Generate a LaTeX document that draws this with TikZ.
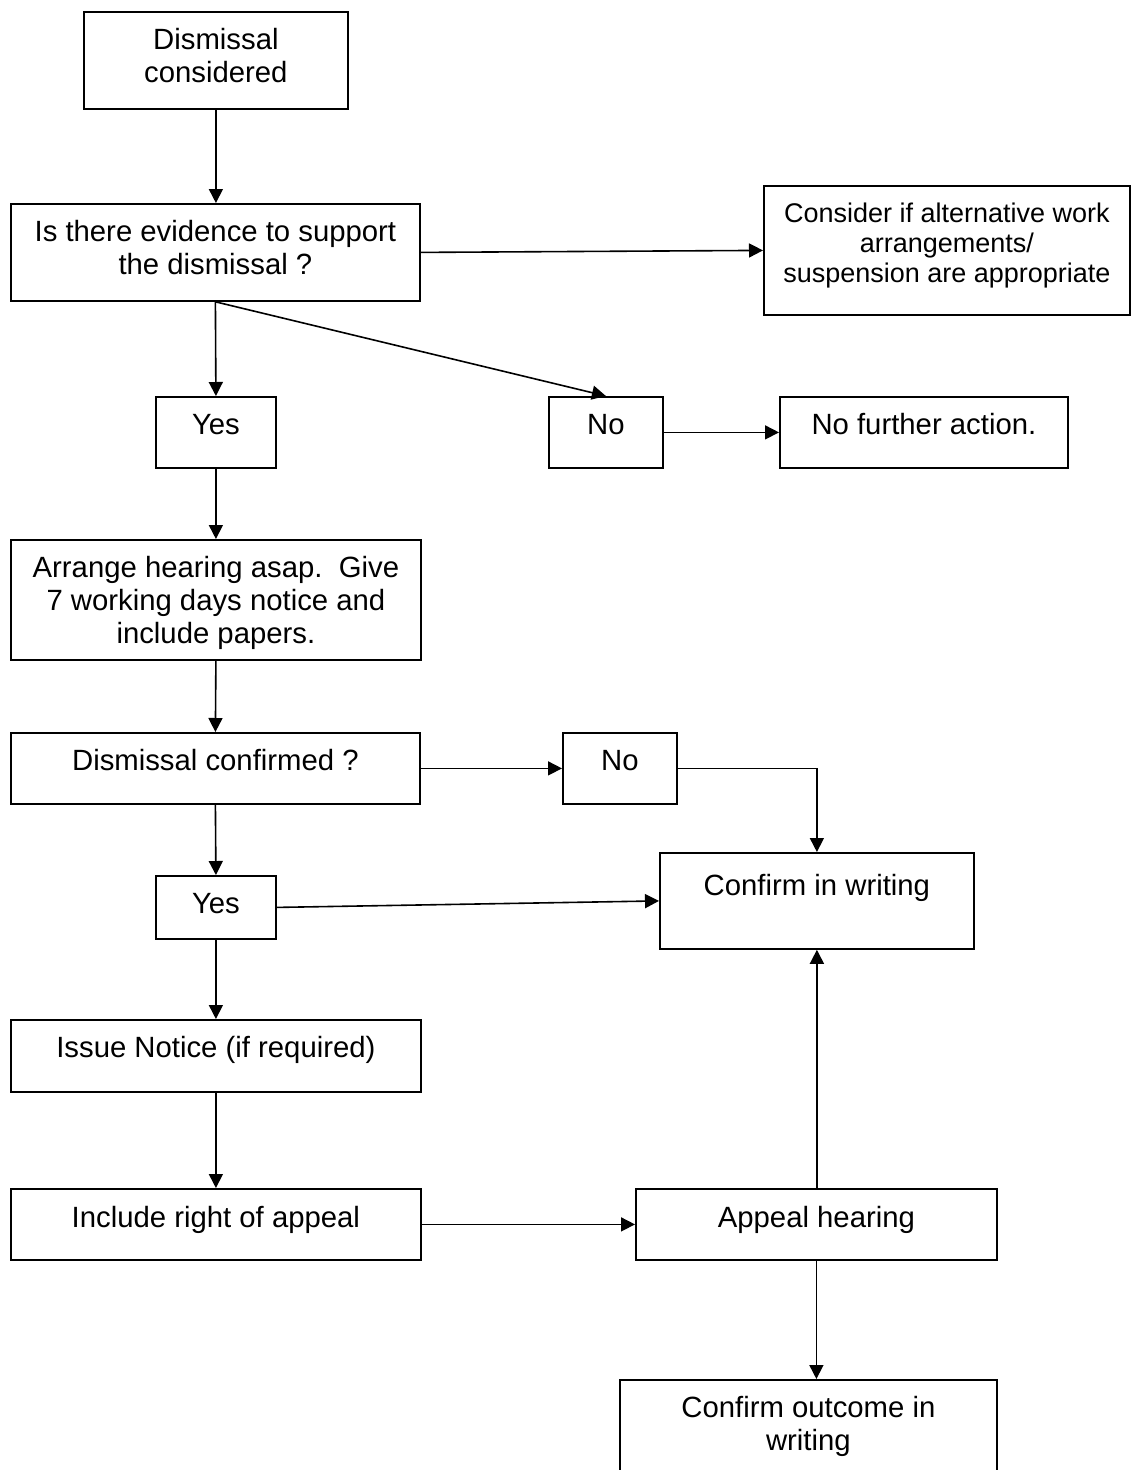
\documentclass[tikz,border=0pt]{standalone}
\usepackage{fontspec}
\setmainfont{Liberation Sans}
\usetikzlibrary{arrows.meta}
\newcommand{\bxt}[4]{\parbox[c][#2pt][t]{#1pt}{\centering\rule{0pt}{#3pt}#4}}
\begin{document}
\begin{tikzpicture}[x=1pt,y=-1pt,
  box/.style={draw, line width=1.8pt, inner sep=0pt, anchor=north west, font=\fontsize{29.3}{33}\selectfont},
  smallbox/.style={box, font=\fontsize{27}{30}\selectfont},
  arr/.style={line width=1.6pt, -{Triangle[length=14pt,width=14pt]}}]
\useasboundingbox (0,0) rectangle (1133,1470);
\clip (0,0) rectangle (1133,1470);
\node[box] (b1) at (83,11) {\bxt{264}{97}{38}{Dismissal\\considered}};
\node[box] (b2) at (10,203) {\bxt{409}{97}{38}{Is there evidence to support\\the dismissal ?}};
\node[smallbox] (alt) at (763,185) {\bxt{366}{129}{36.5}{Consider if alternative work\\arrangements/\\suspension are appropriate}};
\node[box] (yes1) at (155,396) {\bxt{120}{71}{38}{Yes}};
\node[box] (no1) at (548,396) {\bxt{114}{71}{38}{No}};
\node[box] (nfa) at (779,396) {\bxt{288}{71}{37.5}{No further action.}};
\node[box] (arrh) at (10,539) {\bxt{410}{120}{38}{Arrange hearing asap.\ \ Give\\7 working days notice and\\include papers.}};
\node[box] (dc) at (10,732) {\bxt{409}{71}{38}{Dismissal confirmed ?}};
\node[box] (no2) at (562,732) {\bxt{114}{71}{38}{No}};
\node[box] (ciw) at (659,852) {\bxt{314}{96}{43}{Confirm in writing}};
\node[box] (yes2) at (155,875) {\bxt{120}{63}{38}{Yes}};
\node[box] (iss) at (10,1019) {\bxt{410}{72}{38}{Issue Notice (if required)}};
\node[box] (inc) at (10,1188) {\bxt{410}{71}{39}{Include right of appeal}};
\node[box] (app) at (635,1188) {\bxt{361}{71}{39}{Appeal hearing}};
\node[box] (out) at (619,1379) {\bxt{377}{110}{38}{Confirm outcome in\\writing}};

\draw[arr] (b1.south) -- (b1.south |- b2.north);
\draw[arr] (b2.east) -- (alt.west);
\draw[arr] (b2.south) -- (yes1.north);
\draw[arr] (b2.south) -- (no1.north);
\draw[arr] (no1.east) -- (nfa.west);
\draw[arr] (yes1.south) -- (arrh.north);
\draw[arr] (arrh.south) -- (dc.north);
\draw[arr] (dc.east) -- (no2.west);
\draw[arr] (no2.east) -| (ciw.north);
\draw[arr] (dc.south) -- (yes2.north);
\draw[arr] (yes2.east) -- (ciw.west);
\draw[arr] (yes2.south) -- (iss.north);
\draw[arr] (iss.south) -- (inc.north);
\draw[arr] (inc.east) -- (app.west);
\draw[arr] (app.north) -- (app.north -| ciw.south) -- (ciw.south);
\draw[arr] (app.south) -- (app.south |- out.north);
\end{tikzpicture}
\end{document}
